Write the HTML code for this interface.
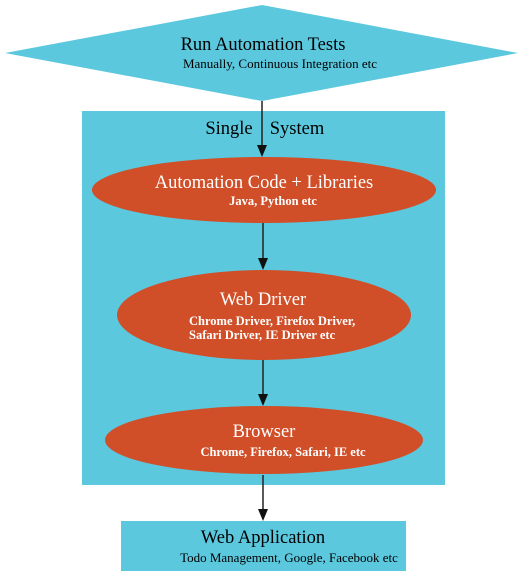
<!DOCTYPE html>
<html><head><meta charset="utf-8"><style>
html,body{margin:0;padding:0;background:#fff;}
svg{display:block;font-family:"Liberation Serif",serif;}
</style></head><body>
<svg width="528" height="576" viewBox="0 0 528 576">
<polygon points="5,53 262,5 518,53 262,101" fill="#5bc8de"/>
<text x="263" y="50" font-size="18.5" text-anchor="middle" fill="#000">Run Automation Tests</text>
<text x="280" y="68" font-size="13" text-anchor="middle" fill="#000">Manually, Continuous Integration etc</text>
<rect x="82" y="111" width="363" height="374" fill="#5bc8de"/>
<text x="229" y="134" font-size="18.5" text-anchor="middle">Single</text>
<text x="297" y="134" font-size="18.5" text-anchor="middle">System</text>
<g stroke="#222" stroke-width="1.5">
<line x1="262" y1="101" x2="262" y2="146"/>
<line x1="263" y1="223" x2="263" y2="259"/>
<line x1="263" y1="360" x2="263" y2="395"/>
<line x1="263" y1="475" x2="263" y2="510"/>
</g>
<g fill="#111">
<polygon points="257,145 267,145 262,157"/>
<polygon points="258,258 268,258 263,270"/>
<polygon points="258,394 268,394 263,406"/>
<polygon points="258,509 268,509 263,521"/>
</g>
<ellipse cx="264" cy="190" rx="172" ry="33" fill="#d04f28"/>
<text x="264" y="188" font-size="18.5" text-anchor="middle" fill="#fff">Automation Code + Libraries</text>
<text x="273" y="205" font-size="12.5" font-weight="bold" text-anchor="middle" fill="#fff">Java, Python etc</text>
<ellipse cx="264" cy="315" rx="147" ry="45" fill="#d04f28"/>
<text x="263" y="305" font-size="18.5" text-anchor="middle" fill="#fff">Web Driver</text>
<text x="189" y="325" font-size="12.5" font-weight="bold" fill="#fff">Chrome Driver, Firefox Driver,</text>
<text x="189" y="339" font-size="12.5" font-weight="bold" fill="#fff">Safari Driver, IE Driver etc</text>
<ellipse cx="264" cy="440" rx="159" ry="34" fill="#d04f28"/>
<text x="264" y="437" font-size="18.5" text-anchor="middle" fill="#fff">Browser</text>
<text x="283" y="456" font-size="12.5" font-weight="bold" text-anchor="middle" fill="#fff">Chrome, Firefox, Safari, IE etc</text>
<rect x="121" y="521" width="285" height="50" fill="#5bc8de"/>
<text x="263" y="543" font-size="18.5" text-anchor="middle" fill="#000">Web Application</text>
<text x="289" y="562" font-size="13" text-anchor="middle" fill="#000">Todo Management, Google, Facebook etc</text>
</svg>
</body></html>
